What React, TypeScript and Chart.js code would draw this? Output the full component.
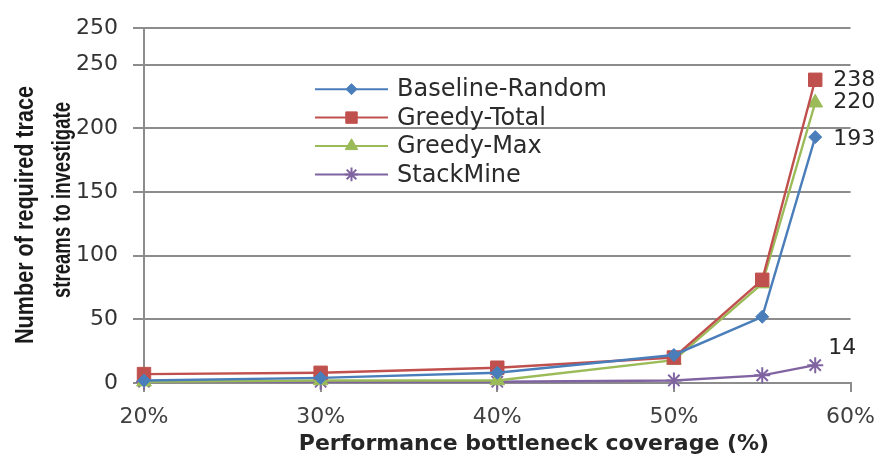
import React, { useEffect, useRef } from 'react';
import { Chart, registerables } from 'chart.js';
import { drawPoint } from 'chart.js/helpers';

Chart.register(...registerables);

// ---------- data ----------
const coverage = [20, 30, 40, 50, 55, 58];
const baselineRandom = [2, 4, 8, 22, 52, 193];
const greedyTotal = [7, 8, 12, 20, 81, 238];
const greedyMax = [1, 2, 2, 18, 78, 220];
const stackMine = [1, 1, 1, 2, 6, 14];
const seriesNames = ['Baseline-Random', 'Greedy-Total', 'Greedy-Max', 'StackMine'];
const seriesValues = [baselineRandom, greedyTotal, greedyMax, stackMine];
const xTickValues = [20, 30, 40, 50, 60];
const yTickValues = [0, 50, 100, 150, 200, 250];
const yTopValue = 278.5; // upper edge of the plot (duplicated "250" line in the picture)
const yTopLabel = '250';
const xTitle = 'Performance bottleneck coverage (%)';
const yTitleLines = ['Number of required trace', 'streams to investigate'];

// ---------- styles ----------
const colors = ['#4A7EBB', '#C0504D', '#9BBB59', '#8064A2'];
const pointStyles = ['rectRot', 'rect', 'triangle', 'star'];
const pointRadii = [6.5, 9.5, 8.5, 8];
const pointBorders = [1, 1, 1, 2];
const TICK_FONT = 'DejaVu Sans';

const textPlugin = {
  id: 'customText',
  afterDatasetsDraw(chart: any) {
    const ctx = chart.ctx;
    ctx.save();
    ctx.font = `22px ${TICK_FONT}`;
    ctx.fillStyle = '#262626';
    chart.data.datasets.forEach((ds: any, i: number) => {
      const meta = chart.getDatasetMeta(i);
      const last = meta.data[meta.data.length - 1];
      const v = ds.data[ds.data.length - 1].y;
      if (i === 3) {
        ctx.textAlign = 'center';
        ctx.textBaseline = 'middle';
        ctx.fillText(String(v), last.x + 27, last.y - 17);
      } else {
        ctx.textAlign = 'left';
        ctx.textBaseline = 'middle';
        ctx.fillText(String(v), last.x + 18, last.y + (i === 0 ? 2 : 0));
      }
    });
    ctx.restore();
  },
  afterDraw(chart: any) {
    const ctx = chart.ctx;
    const area = chart.chartArea;
    // legend inside the plot
    ctx.save();
    const lx0 = area.left + 171;
    const lx1 = area.left + 244;
    const mx = (lx0 + lx1) / 2;
    const tx = area.left + 253;
    seriesNames.forEach((name, i) => {
      const y = area.top + 61 + i * 28.4;
      ctx.strokeStyle = colors[i];
      ctx.fillStyle = colors[i];
      ctx.lineWidth = 2;
      ctx.beginPath();
      ctx.moveTo(lx0, y);
      ctx.lineTo(lx1, y);
      ctx.stroke();
      ctx.lineWidth = pointBorders[i];
      drawPoint(ctx, { pointStyle: pointStyles[i], radius: pointRadii[i] * 0.85, rotation: 0, borderWidth: pointBorders[i] } as any, mx, y);
      ctx.fillStyle = '#2b2b2b';
      ctx.font = `24px ${TICK_FONT}`;
      ctx.textAlign = 'left';
      ctx.textBaseline = 'middle';
      ctx.fillText(name, tx, y + 1);
    });
    ctx.restore();

    // x title
    ctx.save();
    ctx.font = `bold 22px ${TICK_FONT}`;
    ctx.fillStyle = '#262626';
    ctx.textAlign = 'center';
    ctx.textBaseline = 'alphabetic';
    ctx.fillText(xTitle, 534, 450);
    ctx.restore();

    // y title (two lines, rotated)
    ctx.save();
    ctx.font = `bold 26px 'Liberation Sans', Arial, sans-serif`;
    ctx.fillStyle = '#1a1a1a';
    ctx.textAlign = 'center';
    ctx.textBaseline = 'alphabetic';
    const ySpecs = [
      { bx: 33, cy: 215, w: 258 },
      { bx: 70, cy: 200, w: 196 },
    ];
    yTitleLines.forEach((line, i) => {
      const s = ySpecs[i];
      ctx.save();
      ctx.translate(s.bx, s.cy);
      ctx.rotate(-Math.PI / 2);
      ctx.fillText(line, 0, 0, s.w);
      ctx.restore();
    });
    ctx.restore();
  },
};

export default function App() {
  const canvasRef = useRef<HTMLCanvasElement | null>(null);

  useEffect(() => {
    document.body.style.margin = '0';
    const canvas = canvasRef.current;
    if (!canvas) return;

    const datasets = seriesValues.map((vals, i) => ({
      label: seriesNames[i],
      data: coverage.map((x, j) => ({ x, y: vals[j] })),
      borderColor: colors[i],
      backgroundColor: colors[i],
      pointBackgroundColor: colors[i],
      pointBorderColor: colors[i],
      pointStyle: pointStyles[i] as any,
      pointRadius: pointRadii[i],
      pointBorderWidth: pointBorders[i],
      borderWidth: 2.4,
      tension: 0,
      clip: false as any,
    }));

    const chart = new Chart(canvas, {
      type: 'line',
      data: { datasets },
      plugins: [textPlugin],
      options: {
        animation: false,
        responsive: false,
        maintainAspectRatio: false,
        layout: { padding: { top: 21, right: 31, left: 0, bottom: 0 } },
        plugins: {
          legend: { display: false },
          tooltip: { enabled: false },
        },
        scales: {
          x: {
            type: 'linear',
            min: 20,
            max: 60,
            afterBuildTicks: (scale: any) => {
              scale.ticks = xTickValues.map((v) => ({ value: v }));
            },
            afterFit: (scale: any) => {
              scale.height = 74;
            },
            ticks: {
              callback: (v: any) => `${v}%`,
              font: { family: TICK_FONT, size: 22 },
              color: '#404040',
              padding: 12,
              maxRotation: 0,
            },
            grid: {
              drawOnChartArea: false,
              drawTicks: true,
              tickLength: 9,
              color: '#8c8c8c',
              lineWidth: 2,
            },
            border: { color: '#8c8c8c', width: 2 },
          },
          y: {
            min: 0,
            max: yTopValue,
            afterBuildTicks: (scale: any) => {
              scale.ticks = [...yTickValues, yTopValue].map((v) => ({ value: v }));
            },
            afterFit: (scale: any) => {
              scale.width = 144;
            },
            ticks: {
              callback: (v: any) => (v > 250 ? yTopLabel : String(v)),
              font: { family: TICK_FONT, size: 22 },
              color: '#333333',
              padding: 15,
            },
            grid: {
              color: '#8c8c8c',
              lineWidth: 2,
              tickLength: 11,
            },
            border: { color: '#8c8c8c', width: 2 },
          },
        },
      },
    });
    return () => chart.destroy();
  }, []);

  return (
    <div style={{ width: 887, height: 457, background: '#fff' }}>
      <canvas ref={canvasRef} width={887} height={457} style={{ display: 'block' }} />
    </div>
  );
}
